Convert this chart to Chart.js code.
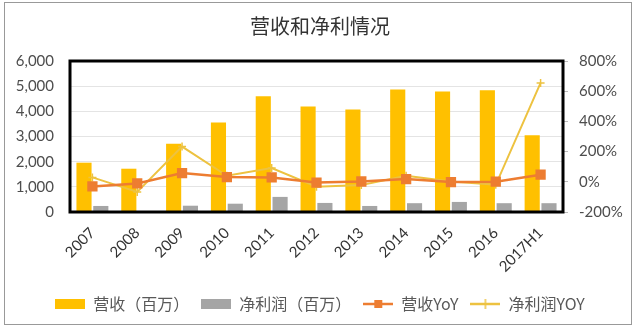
<!DOCTYPE html>
<html>
<head>
<meta charset="utf-8">
<script src="https://cdn.jsdelivr.net/npm/chart.js@4/dist/chart.umd.min.js"></script>
<style>
html,body{margin:0;padding:0;background:#fff;}
#wrap{position:relative;width:640px;height:330px;}
#frame{position:absolute;left:4px;top:2px;width:628px;height:323px;border:1px solid #999;box-sizing:border-box;pointer-events:none;}
</style>
</head>
<body>
<div id="wrap">
<canvas id="c" width="640" height="330"></canvas>
<div id="frame"></div>
</div>
<script>
// years
const years=["2007","2008","2009","2010","2011","2012","2013","2014","2015","2016","2017H1"];
// 营收 / 净利润 (百万)
const revenue=[1960,1720,2710,3560,4600,4190,4070,4870,4790,4840,3050];
const netProfit=[240,30,250,330,600,360,240,350,400,350,350];
// YoY (%)
const revenueYoY=[-31,-11,58,31,29,-5,2,18,-2,1,47];
const profitYoY=[29,-67,233,40,91,-33,-22,40,2,-20,655];

const leftTicks=[0,1000,2000,3000,4000,5000,6000];
const rightTicks=[-200,0,200,400,600,800];

const cjk='"Noto Sans CJK SC", sans-serif';
const num='Lato, "Noto Sans CJK SC", sans-serif';
const textCol='#4d4d4d';

function legendIcon(kind,color){
  const cv=document.createElement('canvas');
  cv.width=30;cv.height=12;
  const g=cv.getContext('2d');
  if(kind=='box'){
    g.fillStyle=color;g.fillRect(0,1,30,10);
  }else{
    g.strokeStyle=color;g.lineWidth=2.5;
    g.beginPath();g.moveTo(0,6);g.lineTo(30,6);g.stroke();
    if(kind=='rect'){
      g.fillStyle=color;g.fillRect(11,2,8,8);
    }else{
      g.lineWidth=1.5;
      g.beginPath();g.moveTo(15,1);g.lineTo(15,11);g.stroke();
    }
  }
  return cv;
}
const icons=[legendIcon('box','#FFC000'),legendIcon('box','#A5A5A5'),legendIcon('rect','#ED7D31'),legendIcon('cross','#EDC240')];

const plotBorder={
  id:'plotBorder',
  afterDatasetsDraw(chart){
    const a=chart.chartArea,ctx=chart.ctx;
    ctx.save();
    ctx.strokeStyle='#000';ctx.lineWidth=3;
    ctx.strokeRect(a.left,a.top,a.right-a.left,a.bottom-a.top);
    ctx.restore();
  }
};

new Chart(document.getElementById('c'),{
  data:{
    labels:years,
    datasets:[
      {type:'bar',label:'营收（百万）',data:revenue,backgroundColor:'#FFC000',yAxisID:'y',order:3,
       categoryPercentage:0.75,barPercentage:0.9},
      {type:'bar',label:'净利润（百万）',data:netProfit,backgroundColor:'#A5A5A5',yAxisID:'y',order:4,
       categoryPercentage:0.75,barPercentage:0.9},
      {type:'line',label:'营收YoY',data:revenueYoY,borderColor:'#ED7D31',backgroundColor:'#ED7D31',
       borderWidth:2.5,pointStyle:'rect',pointRadius:5.5,yAxisID:'y1',order:1},
      {type:'line',label:'净利润YOY',data:profitYoY,borderColor:'#EDC240',backgroundColor:'#EDC240',
       borderWidth:2,pointStyle:'cross',pointRadius:4,pointBorderWidth:1.5,yAxisID:'y1',order:2}
    ]
  },
  options:{
    responsive:false,
    animation:false,
    layout:{padding:{left:0,right:0,top:0,bottom:8}},
    plugins:{
      title:{display:true,text:'营收和净利情况',color:'#333',
        font:{family:cjk,size:20,weight:'normal',lineHeight:1.2},padding:{top:14,bottom:23}},
      legend:{position:'bottom',
        labels:{font:{family:cjk,size:16},color:'#595959',usePointStyle:true,pointStyleWidth:30,boxHeight:12,padding:12,
          sort:(a,b)=>a.datasetIndex-b.datasetIndex,
          generateLabels(chart){
            const items=Chart.defaults.plugins.legend.labels.generateLabels(chart);
            items.forEach(it=>{it.pointStyle=icons[it.datasetIndex];});
            return items;
          }}},
      tooltip:{enabled:false}
    },
    scales:{
      x:{
        grid:{display:false},border:{display:false},
        ticks:{color:'#333',font:{family:num,size:15},minRotation:45,maxRotation:45,autoSkip:false,padding:4},
        afterFit(s){s.height=72;}
      },
      y:{
        position:'left',min:0,max:6000,
        afterBuildTicks(s){s.ticks=leftTicks.map(v=>({value:v}));},
        grid:{color:'#e4e4e4',drawTicks:false},border:{display:false},
        ticks:{color:textCol,font:{family:num,size:15},padding:16,callback:v=>v.toLocaleString('en-US')},
        afterFit(s){s.width=70;}
      },
      y1:{
        position:'right',min:-200,max:800,
        afterBuildTicks(s){s.ticks=rightTicks.map(v=>({value:v}));},
        grid:{drawOnChartArea:false,drawTicks:true,tickLength:5,color:'#bbb'},border:{display:false},
        ticks:{color:textCol,font:{family:num,size:15},padding:11,callback:v=>v+'%'},
        afterFit(s){s.width=77;}
      }
    }
  },
  plugins:[plotBorder]
});
</script>
</body>
</html>
